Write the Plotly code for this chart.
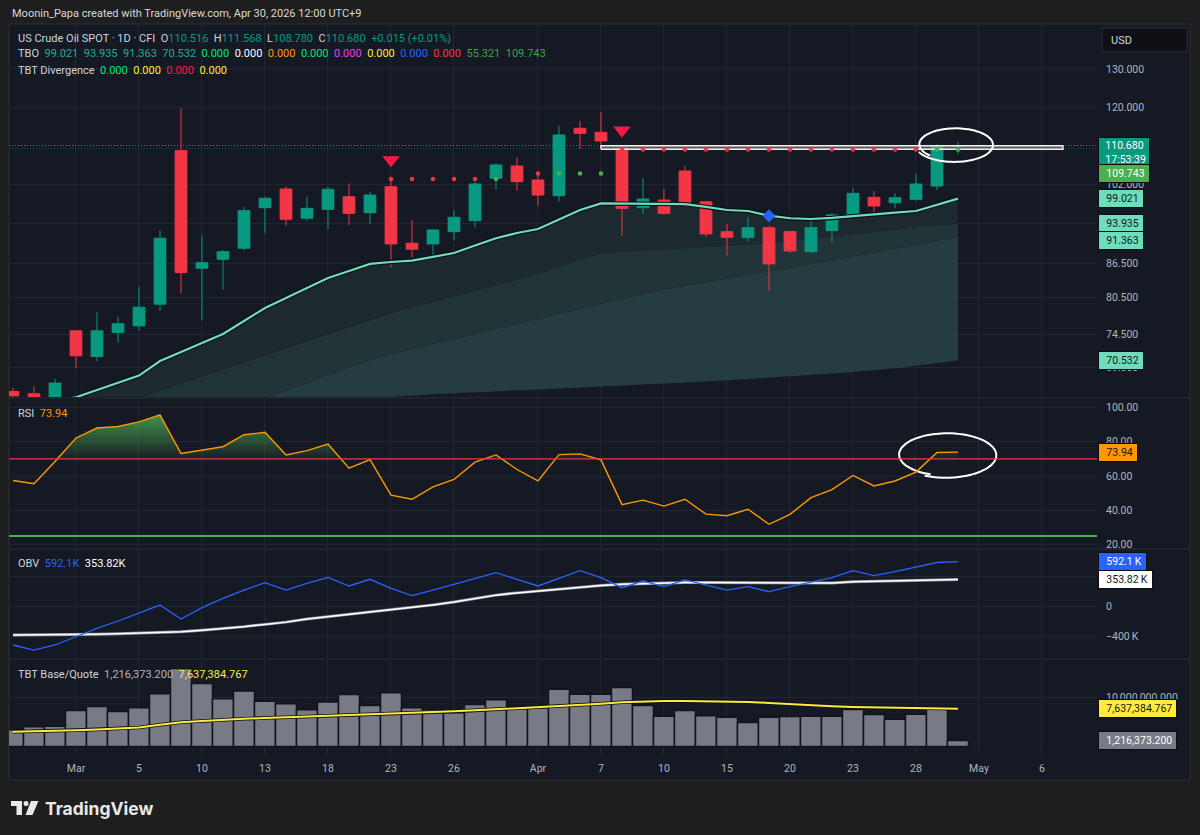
import math
import plotly.graph_objects as go

# ---------------- data ----------------
dates = ['2026-02-25', '2026-02-26', '2026-02-27',
         '2026-03-02', '2026-03-03', '2026-03-04', '2026-03-05', '2026-03-06',
         '2026-03-09', '2026-03-10', '2026-03-11', '2026-03-12', '2026-03-13',
         '2026-03-16', '2026-03-17', '2026-03-18', '2026-03-19', '2026-03-20',
         '2026-03-23', '2026-03-24', '2026-03-25', '2026-03-26', '2026-03-27',
         '2026-03-30', '2026-03-31', '2026-04-01', '2026-04-02',
         '2026-04-06', '2026-04-07', '2026-04-08', '2026-04-09', '2026-04-10',
         '2026-04-13', '2026-04-14', '2026-04-15', '2026-04-16', '2026-04-17',
         '2026-04-20', '2026-04-21', '2026-04-22', '2026-04-23', '2026-04-24',
         '2026-04-27', '2026-04-28', '2026-04-29', '2026-04-30']
future_dates = ['2026-05-01', '2026-05-04', '2026-05-05', '2026-05-06', '2026-05-07', '2026-05-08']

tick_dates = ['2026-03-02', '2026-03-05', '2026-03-10', '2026-03-13', '2026-03-18', '2026-03-23',
              '2026-03-26', '2026-04-01', '2026-04-07', '2026-04-10', '2026-04-15', '2026-04-20',
              '2026-04-23', '2026-04-28', '2026-05-01', '2026-05-06']
tick_text = ['Mar', '5', '10', '13', '18', '23', '26', 'Apr', '7', '10', '15', '20', '23', '28', 'May', '6']

opens = [66.08, 65.77, 65.00, 75.05, 71.12, 74.78, 75.84, 79.36, 109.50, 85.58, 87.21, 89.24, 97.16,
         101.04, 95.03, 96.83, 99.42, 96.15, 101.53, 90.19, 90.05, 92.40, 94.55, 103.34, 106.04,
         102.97, 99.63, 114.76, 113.80, 110.05, 97.16, 98.73, 104.93, 98.38, 92.40, 91.25, 93.18,
         92.40, 88.60, 92.60, 95.49, 99.30, 98.18, 98.88, 101.68, 110.516]
highs = [66.60, 66.78, 67.87, 75.12, 78.04, 77.33, 82.34, 92.73, 119.67, 91.63, 88.92, 97.36, 99.42,
         101.68, 99.42, 101.53, 102.26, 100.47, 103.34, 94.69, 92.92, 96.69, 102.61, 106.64, 107.99,
         104.05, 115.31, 116.53, 118.67, 110.42, 103.34, 100.98, 106.10, 98.59, 93.90, 95.23, 93.57,
         92.60, 95.03, 96.02, 101.19, 100.62, 100.13, 104.27, 110.97, 111.568]
lows = [64.90, 65.20, 64.80, 69.41, 70.37, 73.24, 75.09, 78.25, 81.20, 76.68, 81.78, 88.79, 92.09,
        93.57, 94.55, 92.92, 93.71, 93.90, 85.75, 87.57, 87.69, 90.67, 93.26, 100.98, 100.68,
        97.51, 98.38, 109.89, 110.05, 91.63, 95.89, 95.70, 97.36, 91.32, 87.87, 90.48, 81.65,
        88.31, 88.31, 90.29, 95.35, 95.69, 97.03, 98.59, 100.83, 108.780]
closes = [65.49, 65.40, 67.26, 71.22, 75.05, 76.16, 78.86, 91.13, 84.79, 86.59, 88.60, 96.55, 99.09,
          94.83, 97.03, 100.98, 96.02, 99.77, 90.05, 89.06, 92.73, 95.23, 102.11, 106.26, 102.61,
          99.77, 113.16, 113.56, 111.74, 97.03, 98.94, 96.02, 98.26, 91.96, 91.32, 93.18, 86.36,
          88.74, 93.18, 95.69, 100.13, 97.51, 99.22, 102.11, 110.665, 110.680]

# TBO lines (fast, mid, slow, base)
tbo_fast = [63.5, 64.2, 64.8, 65.3, 66.29, 67.30, 68.33, 70.45, 71.80, 73.16, 74.56, 76.62, 78.73,
            80.40, 82.09, 83.85, 85.09, 86.36, 86.70, 86.95, 87.64, 88.36, 89.76, 91.13, 92.14,
            92.92, 94.79, 96.69, 98.03, 98.00, 97.97, 97.95, 97.90, 97.31, 96.69, 96.49, 95.55,
            95.03, 94.88, 95.09, 95.49, 95.81, 96.15, 96.49, 97.82, 99.021]
tbo_mid = [63.3, 63.7, 64.1, 64.4, 64.7, 64.95, 65.2, 66.17, 67.14, 68.14, 69.18, 70.22, 71.28,
           72.35, 73.43, 74.53, 75.66, 76.79, 77.93, 78.84, 79.75, 80.68, 81.63, 82.57, 83.53,
           84.60, 85.81, 87.07, 88.36, 88.58, 88.81, 89.04, 89.24, 89.46, 89.69, 89.92, 90.14,
           90.55, 91.00, 91.45, 91.89, 92.36, 92.80, 93.27, 93.72, 93.935]
tbo_slow = [63.1, 63.3, 63.5, 63.7, 63.9, 64.1, 64.3, 64.5, 64.7, 64.85, 65.0, 65.1, 65.2,
            66.21, 67.28, 68.36, 69.48, 70.61, 71.50, 72.25, 73.03, 73.81, 74.59, 75.40, 76.19,
            77.00, 77.84, 78.64, 79.45, 80.27, 81.08, 81.86, 82.47, 83.08, 83.69, 84.31, 84.93,
            85.61, 86.29, 87.00, 87.70, 88.39, 89.12, 89.83, 90.55, 91.363]
tbo_base = [62.9, 63.0, 63.05, 63.1, 63.2, 63.3, 63.4, 63.5, 63.6, 63.7, 63.85, 64.0, 64.15,
            64.3, 64.5, 64.7, 64.9, 65.15, 65.35, 65.55, 65.7, 65.85, 66.0, 66.12, 66.25,
            66.38, 66.5, 66.63, 66.77, 66.91, 67.05, 67.2, 67.35, 67.5, 67.66, 67.83, 68.0,
            68.2, 68.4, 68.62, 68.85, 69.1, 69.4, 69.75, 70.1, 70.532]
tbo_zero_vals = [0.0, 0.0, 0.0, 0.0, 0.0, 0.0, 0.0, 0.0]
tbo_zero_colors = ['#00e676', '#ffffff', '#ff9800', '#00e676', '#e040fb', '#ffeb3b', '#2962ff', '#f23645']
tbo_extra_vals = [55.321, 109.743]
tbt_div_vals = [0.0, 0.0, 0.0, 0.0]
tbt_div_colors = ['#00e676', '#ffeb3b', '#ff1744', '#ffeb3b']

# TBO signal dots (level and colour per bar)
dot_dates = dates[18:]
dot_level = [103.2, 103.2, 103.2, 103.2, 103.2, 103.2, 103.2,
             104.4, 104.4, 104.4, 104.4,
             109.743, 109.743, 109.743, 109.743, 109.743, 109.743, 109.743, 109.743, 109.743,
             109.743, 109.743, 109.743, 109.743, 109.743, 109.743, 109.743, 109.743]
dot_color = ['r', 'r', 'r', 'r', 'r', 'g', 'r',
             'r', 'g', 'g', 'g',
             'r', 'r', 'r', 'r', 'r', 'r', 'r', 'r', 'r', 'r', 'r', 'r', 'r', 'r', 'r', 'g', 'g']
sell_dates = ['2026-03-23', '2026-04-08']
sell_level = [107.4, 114.3]
blue_dates = ['2026-04-17']
blue_level = [95.55]
box_dates = ['2026-04-07', '2026-05-07']
box_low, box_high = 109.82, 110.62
countdown = '17:53:39'

rsi = [57.4, 55.5, 68.5, 82.2, 88.0, 88.9, 91.6, 95.7, 73.1, 75.2, 77.1, 84.1, 85.5, 72.3, 74.8,
       78.7, 64.6, 69.6, 48.8, 46.4, 53.6, 58.0, 68.1, 72.3, 63.8, 57.1, 72.5, 72.9, 69.4, 43.3,
       45.9, 42.4, 46.4, 37.7, 36.8, 40.6, 31.8, 37.6, 47.4, 52.0, 60.3, 54.2, 57.1, 62.3, 73.7, 73.94]
rsi_upper, rsi_lower = 70, 25

obv = [-520000, -587000, -520000, -409000, -298000, -200000, -98000, 13000, -173000, -22000,
       102000, 213000, 311000, 213000, 302000, 382000, 267000, 356000, 236000, 138000,
       213000, 289000, 369000, 444000, 356000, 267000, 369000, 471000, 378000, 244000,
       333000, 258000, 347000, 280000, 213000, 258000, 191000, 258000, 316000, 378000,
       471000, 404000, 458000, 524000, 580000, 592100]
obv_ma = [-387000, -387000, -385000, -383000, -377000, -370000, -362000, -355000, -343000, -322000,
          -300000, -275000, -245000, -215000, -173000, -143000, -112000, -85000, -55000, -22000,
          15000, 52000, 100000, 145000, 175000, 200000, 230000, 257000, 272000, 290000,
          300000, 310000, 312000, 312000, 311000, 307000, 303000, 302000, 302000, 306000,
          322000, 330000, 338000, 345000, 350000, 353820]

vol = [3400000, 4010000, 4080000, 7280000, 8100000, 7080000, 7820000, 10680000, 15780000, 12720000,
       9660000, 11220000, 9120000, 8640000, 7420000, 8980000, 10480000, 8300000, 10880000, 7820000,
       7480000, 6800000, 8500000, 9460000, 7820000, 7820000, 11570000, 10540000, 10540000, 11910000,
       8300000, 6120000, 7280000, 6190000, 5920000, 4830000, 5920000, 6050000, 6120000, 6120000,
       7480000, 6460000, 5510000, 6530000, 7620000, 1216373.2]
vol_ma = [2990000, 3050000, 3150000, 3300000, 3450000, 3600000, 3850000, 4400000, 4900000, 5150000,
          5440000, 5600000, 5760000, 5900000, 6000000, 6150000, 6300000, 6500000, 6650000, 6800000,
          6970000, 7100000, 7300000, 7500000, 7720000, 7900000, 8150000, 8400000, 8640000, 8950000,
          9120000, 9170000, 9180000, 9160000, 9120000, 9000000, 8800000, 8550000, 8300000, 8120000,
          7980000, 7900000, 7840000, 7780000, 7720000, 7637384.767]

# axis ticks (labels hidden by value boxes are blank, grid kept)
price_ticks = [69.5, 74.5, 80.5, 86.5, 94, 102, 110, 120, 130]
price_tick_text = ['69.500', '74.500', '80.500', '86.500', '', '102.000', '', '120.000', '130.000']
rsi_ticks = [20, 40, 60, 80, 100]
obv_ticks = [-400000, 0, 400000]
obv_tick_text = ['\u2212400\u2009K', '0', '']
vol_ticks = [0, 10000000]

# ---------------- style ----------------
W, H = 1200, 835
PL, PR, PT, PB = 9, 1097, 24, 747
FONT = 'Roboto, "Noto Sans", sans-serif'
BG = '#151924'
OUTER = '#1e1e1e'
GRID = '#222632'
SEP = '#2a2e39'
TXT = '#d1d4dc'
AXT = '#b2b5be'
UP = '#089981'
DN = '#f23645'
MINT = '#6fdcbc'
BAND1, BAND2, BAND3 = '#1c2a30', '#213438', '#253d41'


def px(x):
    return (x - PL) / (PR - PL)


def py(y):
    return (PB - y) / (PB - PT)


all_dates = dates + future_dates
xi = {d: k for k, d in enumerate(all_dates)}
X = [xi[d] for d in dates]
XR = [-0.19, 51.62]
PRICE_RANGE = [65.33, 142.81]
RSI_RANGE = [17.96, 104.96]
OBV_RANGE = [-693300, 746700]
VOL_RANGE = [-101000, 17475000]

fig = go.Figure()

# TBO cloud bands (base price subplot, drawn below the overlay with candles)
fig.add_trace(go.Scatter(x=X, y=tbo_base, mode='lines', line=dict(width=0), hoverinfo='skip', yaxis='y'))
fig.add_trace(go.Scatter(x=X, y=tbo_slow, mode='lines', line=dict(width=0), fill='tonexty',
                         fillcolor=BAND3, hoverinfo='skip', yaxis='y'))
fig.add_trace(go.Scatter(x=X, y=tbo_mid, mode='lines', line=dict(width=0), fill='tonexty',
                         fillcolor=BAND2, hoverinfo='skip', yaxis='y'))
fig.add_trace(go.Scatter(x=X, y=tbo_fast, mode='lines', line=dict(width=0), fill='tonexty',
                         fillcolor=BAND1, hoverinfo='skip', yaxis='y'))

# current price dotted line
fig.add_trace(go.Scatter(x=XR, y=[closes[-1], closes[-1]], mode='lines',
                         line=dict(color=UP, width=1, dash='1px,2px'), yaxis='y', hoverinfo='skip'))

# candles (overlay axis so they sit above the cloud)
fig.add_trace(go.Candlestick(x=X, open=opens, high=highs, low=lows, close=closes,
                             increasing=dict(line=dict(color=UP, width=1), fillcolor=UP),
                             decreasing=dict(line=dict(color=DN, width=1), fillcolor=DN),
                             whiskerwidth=0, yaxis='y5', hoverinfo='skip'))

# fast line with dark outline
fig.add_trace(go.Scatter(x=X, y=tbo_fast, mode='lines', line=dict(color='#0b0f14', width=4.4),
                         yaxis='y5', hoverinfo='skip'))
fig.add_trace(go.Scatter(x=X, y=tbo_fast, mode='lines', line=dict(color=MINT, width=2.2),
                         yaxis='y5', hoverinfo='skip'))

# drawn rectangle
bx0, bx1 = xi[box_dates[0]], xi[box_dates[1]]
fig.add_trace(go.Scatter(x=[bx0, bx1, bx1, bx0, bx0], y=[box_low, box_low, box_high, box_high, box_low],
                         mode='lines', fill='toself', fillcolor='rgba(140,140,140,0.55)',
                         line=dict(color='#f0f0f0', width=1.4), yaxis='y5', hoverinfo='skip'))

# signal dots
cmap = {'r': DN, 'g': '#4caf50'}
fig.add_trace(go.Scatter(x=[xi[d] for d in dot_dates], y=dot_level, mode='markers',
                         marker=dict(size=4.5, color=[cmap[c] for c in dot_color]),
                         yaxis='y5', hoverinfo='skip'))
fig.add_trace(go.Scatter(x=[xi[d] for d in sell_dates], y=sell_level, mode='markers',
                         marker=dict(symbol='triangle-down', size=15, color='#ff1744', line=dict(width=0)),
                         yaxis='y5', hoverinfo='skip'))
fig.add_trace(go.Scatter(x=[xi[d] for d in blue_dates], y=blue_level, mode='markers',
                         marker=dict(symbol='diamond', size=10, color='#2962ff', line=dict(width=0)),
                         yaxis='y5', hoverinfo='skip'))


# hand-drawn loops (user drawings)
def loop(cx, cy, rx, ry, t0, t1, shrink, n=90, logy=False):
    xs, ys = [], []
    for k in range(n + 1):
        t = math.radians(t0 + (t1 - t0) * k / n)
        s = 1 - shrink * k / n
        xs.append(cx + rx * s * math.cos(t))
        if logy:
            ys.append(math.exp(math.log(cy) + ry * s * math.sin(t)))
        else:
            ys.append(cy + ry * s * math.sin(t))
    return xs, ys


lx, ly = loop(44.86, 110.9, 1.9, 0.037, 205, 585, 0.12, logy=True)
fig.add_trace(go.Scatter(x=lx, y=ly, mode='lines', line=dict(color='white', width=2, shape='spline'),
                         yaxis='y5', hoverinfo='skip'))
rx_, ry_ = loop(44.45, 72.3, 2.45, 13.4, 245, 610, 0.1)
fig.add_trace(go.Scatter(x=rx_, y=ry_, mode='lines', line=dict(color='white', width=2, shape='spline'),
                         yaxis='y2', hoverinfo='skip'))

# RSI overbought gradient fill
pts = []
for k in range(len(rsi)):
    if k > 0:
        a, b = rsi[k - 1], rsi[k]
        if (a - rsi_upper) * (b - rsi_upper) < 0:
            t = (rsi_upper - a) / (b - a)
            pts.append((X[k - 1] + t * (X[k] - X[k - 1]), rsi_upper))
    pts.append((X[k], max(rsi[k], rsi_upper)))
pts += [(X[-1], rsi_upper), (X[0], rsi_upper)]
fig.add_trace(go.Scatter(x=[p[0] for p in pts], y=[p[1] for p in pts], mode='lines', line=dict(width=0),
                         fill='toself',
                         fillgradient=dict(type='vertical', start=rsi_upper, stop=97,
                                           colorscale=[[0, 'rgba(76,175,80,0.05)'], [1, 'rgba(76,175,80,0.85)']]),
                         yaxis='y2', hoverinfo='skip'))
fig.add_trace(go.Scatter(x=X, y=rsi, mode='lines', line=dict(color='#ff9800', width=1.4),
                         yaxis='y2', hoverinfo='skip'))

# OBV
fig.add_trace(go.Scatter(x=X, y=obv_ma, mode='lines', line=dict(color='#8d909a', width=3.0),
                         yaxis='y3', hoverinfo='skip'))
fig.add_trace(go.Scatter(x=X, y=obv_ma, mode='lines', line=dict(color='#ffffff', width=1.5),
                         yaxis='y3', hoverinfo='skip'))
fig.add_trace(go.Scatter(x=X, y=obv, mode='lines', line=dict(color='#2962ff', width=1.3),
                         yaxis='y3', hoverinfo='skip'))

# Volume
fig.add_trace(go.Bar(x=X, y=vol, width=1, marker=dict(color='#787b86', line=dict(color='#11141c', width=1.5)),
                     yaxis='y4', hoverinfo='skip'))
fig.add_trace(go.Scatter(x=X, y=vol_ma, mode='lines', line=dict(color='#0b0d12', width=3.6),
                         yaxis='y4', hoverinfo='skip'))
fig.add_trace(go.Scatter(x=X, y=vol_ma, mode='lines', line=dict(color='#ffeb3b', width=2),
                         yaxis='y4', hoverinfo='skip'))

# ---------------- axes ----------------
yax = dict(anchor='x', side='right', showgrid=True, gridcolor=GRID, gridwidth=1, zeroline=False,
           showline=False, ticks='', ticklabelstandoff=8, fixedrange=True,
           tickfont=dict(size=10.5, color=AXT, family=FONT))
price_log_range = [math.log10(PRICE_RANGE[0]), math.log10(PRICE_RANGE[1])]
layout_axes = dict(
    xaxis=dict(domain=[0, 1], anchor='y4', range=XR, tickvals=[xi[d] for d in tick_dates], ticktext=tick_text,
               showgrid=True, gridcolor=GRID, gridwidth=1, zeroline=False, showline=False,
               ticks='outside', ticklen=6, tickcolor=SEP, ticklabelstandoff=5,
               tickfont=dict(size=10.5, color=AXT, family=FONT),
               rangeslider=dict(visible=False), fixedrange=True),
    yaxis=dict(yax, domain=[py(397), 1], type='log', range=price_log_range,
               tickvals=price_ticks, ticktext=price_tick_text),
    yaxis5=dict(overlaying='y', anchor='x', side='right', type='log', range=price_log_range,
                showgrid=False, zeroline=False, showline=False, showticklabels=False, ticks='', fixedrange=True),
    yaxis2=dict(yax, domain=[py(548), py(399)], range=RSI_RANGE, tickvals=rsi_ticks,
                ticktext=[f'{v:.2f}' for v in rsi_ticks]),
    yaxis3=dict(yax, domain=[py(658), py(550)], range=OBV_RANGE, tickvals=obv_ticks, ticktext=obv_tick_text),
    yaxis4=dict(yax, domain=[0, py(660)], range=VOL_RANGE, tickvals=vol_ticks,
                ticktext=[f'{v:,.3f}' for v in vol_ticks]),
)

# ---------------- shapes ----------------
shapes = [
    dict(type='rect', xref='paper', yref='paper', x0=px(9), x1=px(1190), y0=py(780), y1=py(24),
         fillcolor=BG, line=dict(color=SEP, width=1), layer='below'),
]
for ysep in (398, 549, 659):
    shapes.append(dict(type='line', xref='paper', yref='paper', x0=px(9), x1=px(1190), y0=py(ysep), y1=py(ysep),
                       line=dict(color=SEP, width=1), layer='below'))
shapes.append(dict(type='line', xref='x domain', yref='y2', x0=0, x1=1, y0=rsi_upper, y1=rsi_upper,
                   line=dict(color='#f23645', width=1.2)))
shapes.append(dict(type='line', xref='x domain', yref='y2', x0=0, x1=1, y0=rsi_lower, y1=rsi_lower,
                   line=dict(color='#4caf50', width=2)))
# USD button
shapes.append(dict(type='rect', xref='paper', yref='paper', x0=px(1102), x1=px(1187), y0=py(52), y1=py(28),
                   fillcolor='#0e1015', line=dict(color='#2a2e39', width=1)))
# TradingView logo
shapes += [
    dict(type='rect', xref='paper', yref='paper', x0=px(11), x1=px(22), y0=py(806), y1=py(801),
         fillcolor='#e8e8e8', line=dict(width=0)),
    dict(type='rect', xref='paper', yref='paper', x0=px(16.5), x1=px(22), y0=py(815), y1=py(801),
         fillcolor='#e8e8e8', line=dict(width=0)),
    dict(type='circle', xref='paper', yref='paper', x0=px(23.5), x1=px(28.5), y0=py(806), y1=py(801),
         fillcolor='#e8e8e8', line=dict(width=0)),
    dict(type='path', xref='paper', yref='paper',
         path=f'M {px(31)} {py(801)} L {px(38.5)} {py(801)} L {px(32.5)} {py(815)} L {px(25.5)} {py(815)} Z',
         fillcolor='#e8e8e8', line=dict(width=0)),
]

# ---------------- annotations ----------------
ann = []


def span(t, c):
    return f'<span style="color:{c}">{t}</span>'


GAP = '\u00a0\u00a0'


def legend(text, y):
    ann.append(dict(text=text, xref='paper', yref='paper', x=px(16), y=py(y), xanchor='left', yanchor='middle',
                    showarrow=False, align='left', font=dict(size=11, color=TXT, family=FONT)))


chg = closes[-1] - closes[-2]
pct = chg / closes[-2] * 100
line1 = (span('US Crude Oil SPOT · 1D · CFI', TXT) + GAP +
         'O' + span(f'{opens[-1]:.3f}', UP) + GAP + 'H' + span(f'{highs[-1]:.3f}', UP) + GAP +
         'L' + span(f'{lows[-1]:.3f}', UP) + GAP + 'C' + span(f'{closes[-1]:.3f}', UP) + GAP +
         span(f'{chg:+.3f} ({pct:+.2f}%)', UP))
legend(line1, 38)
TEAL_TXT = '#22ab94'
line2 = 'TBO' + GAP + GAP.join(span(f'{v:.3f}', TEAL_TXT) for v in
                               [tbo_fast[-1], tbo_mid[-1], tbo_slow[-1], tbo_base[-1]])
line2 += GAP + GAP.join(span(f'{v:.3f}', c) for v, c in zip(tbo_zero_vals, tbo_zero_colors))
line2 += GAP + GAP.join(span(f'{v:.3f}', '#43a047') for v in tbo_extra_vals)
legend(line2, 54)
line3 = 'TBT Divergence' + GAP + GAP.join(span(f'{v:.3f}', c) for v, c in zip(tbt_div_vals, tbt_div_colors))
legend(line3, 70)
legend('RSI' + GAP + span(f'{rsi[-1]:.2f}', '#ff9800'), 413)
legend('OBV' + GAP + span(f'{obv[-1] / 1000:.1f}K', '#2962ff') + GAP + span(f'{obv_ma[-1] / 1000:.2f}K', '#ffffff'), 563)
legend('TBT Base/Quote' + GAP + span(f'{vol[-1]:,.3f}', AXT) + GAP + span(f'{vol_ma[-1]:,.3f}', '#ffeb3b'), 674)

# header and footer
ann.append(dict(text='Moonin_Papa created with TradingView.com, Apr 30, 2026 12:00 UTC+9', xref='paper', yref='paper',
                x=px(10), y=py(13), xanchor='left', yanchor='middle', showarrow=False,
                font=dict(size=11, color='#d9d9d9', family=FONT)))
ann.append(dict(text='<b>TradingView</b>', xref='paper', yref='paper', x=px(43), y=py(808), xanchor='left',
                yanchor='middle', showarrow=False, font=dict(size=17.5, color='#e8e8e8', family='Inter, Roboto, sans-serif')))
ann.append(dict(text='USD', xref='paper', yref='paper', x=px(1109), y=py(40), xanchor='left', yanchor='middle',
                showarrow=False, font=dict(size=11, color=TXT, family=FONT)))

LP, RP = '\u2002', '\u2009'


def box(text, y, yref, bg, fg, yshift=0, yanchor='middle', pad=2):
    ann.append(dict(text=text, xref='paper', yref=yref, x=px(1098), y=y, xanchor='left', yanchor=yanchor,
                    yshift=yshift, showarrow=False, bgcolor=bg, bordercolor='#0b0d12', borderwidth=1,
                    borderpad=pad, align='left', font=dict(size=10.5, color=fg, family=FONT)))


lg = math.log10
box(f'{LP}{closes[-1]:.3f}{RP}<br>{LP}{countdown}{RP}', lg(closes[-1]), 'y', UP, '#ffffff', yshift=9,
    yanchor='top', pad=1)
box(f'{LP}{tbo_extra_vals[1]:.3f}{RP}', lg(tbo_extra_vals[1]), 'y', '#4caf50', '#ffffff', yshift=-24)
box(f'{LP}{tbo_fast[-1]:.3f}{RP}', lg(tbo_fast[-1]), 'y', MINT, '#131722')
box(f'{LP}{tbo_mid[-1]:.3f}{RP}', lg(tbo_mid[-1]), 'y', MINT, '#131722')
box(f'{LP}{tbo_slow[-1]:.3f}{RP}', lg(tbo_slow[-1]), 'y', MINT, '#131722', yshift=-3)
box(f'{LP}{tbo_base[-1]:.3f}{RP}', lg(tbo_base[-1]), 'y', MINT, '#131722')
box(f'{LP}{rsi[-1]:.2f}{RP}', rsi[-1], 'y2', '#ff9800', '#131722')
box(f'{LP}{obv[-1] / 1000:.1f}\u2009K{RP}', obv[-1], 'y3', '#2962ff', '#ffffff')
box(f'{LP}{obv_ma[-1] / 1000:.2f}\u2009K{RP}', obv_ma[-1], 'y3', '#ffffff', '#131722')
box(f'{LP}{vol_ma[-1]:,.3f}{RP}', vol_ma[-1], 'y4', '#ffeb3b', '#131722')
box(f'{LP}{vol[-1]:,.3f}{RP}', vol[-1], 'y4', '#787b86', '#ffffff')

fig.update_layout(
    width=W, height=H, margin=dict(l=PL, r=W - PR, t=PT, b=H - PB, pad=0),
    paper_bgcolor=OUTER, plot_bgcolor='rgba(0,0,0,0)', showlegend=False,
    font=dict(family=FONT, color=AXT, size=10.5),
    boxgap=0.2, bargap=0, hovermode=False,
    shapes=shapes, annotations=ann,
    **layout_axes,
)

fig.write_html('out.html', config={'displayModeBar': False, 'staticPlot': True})
